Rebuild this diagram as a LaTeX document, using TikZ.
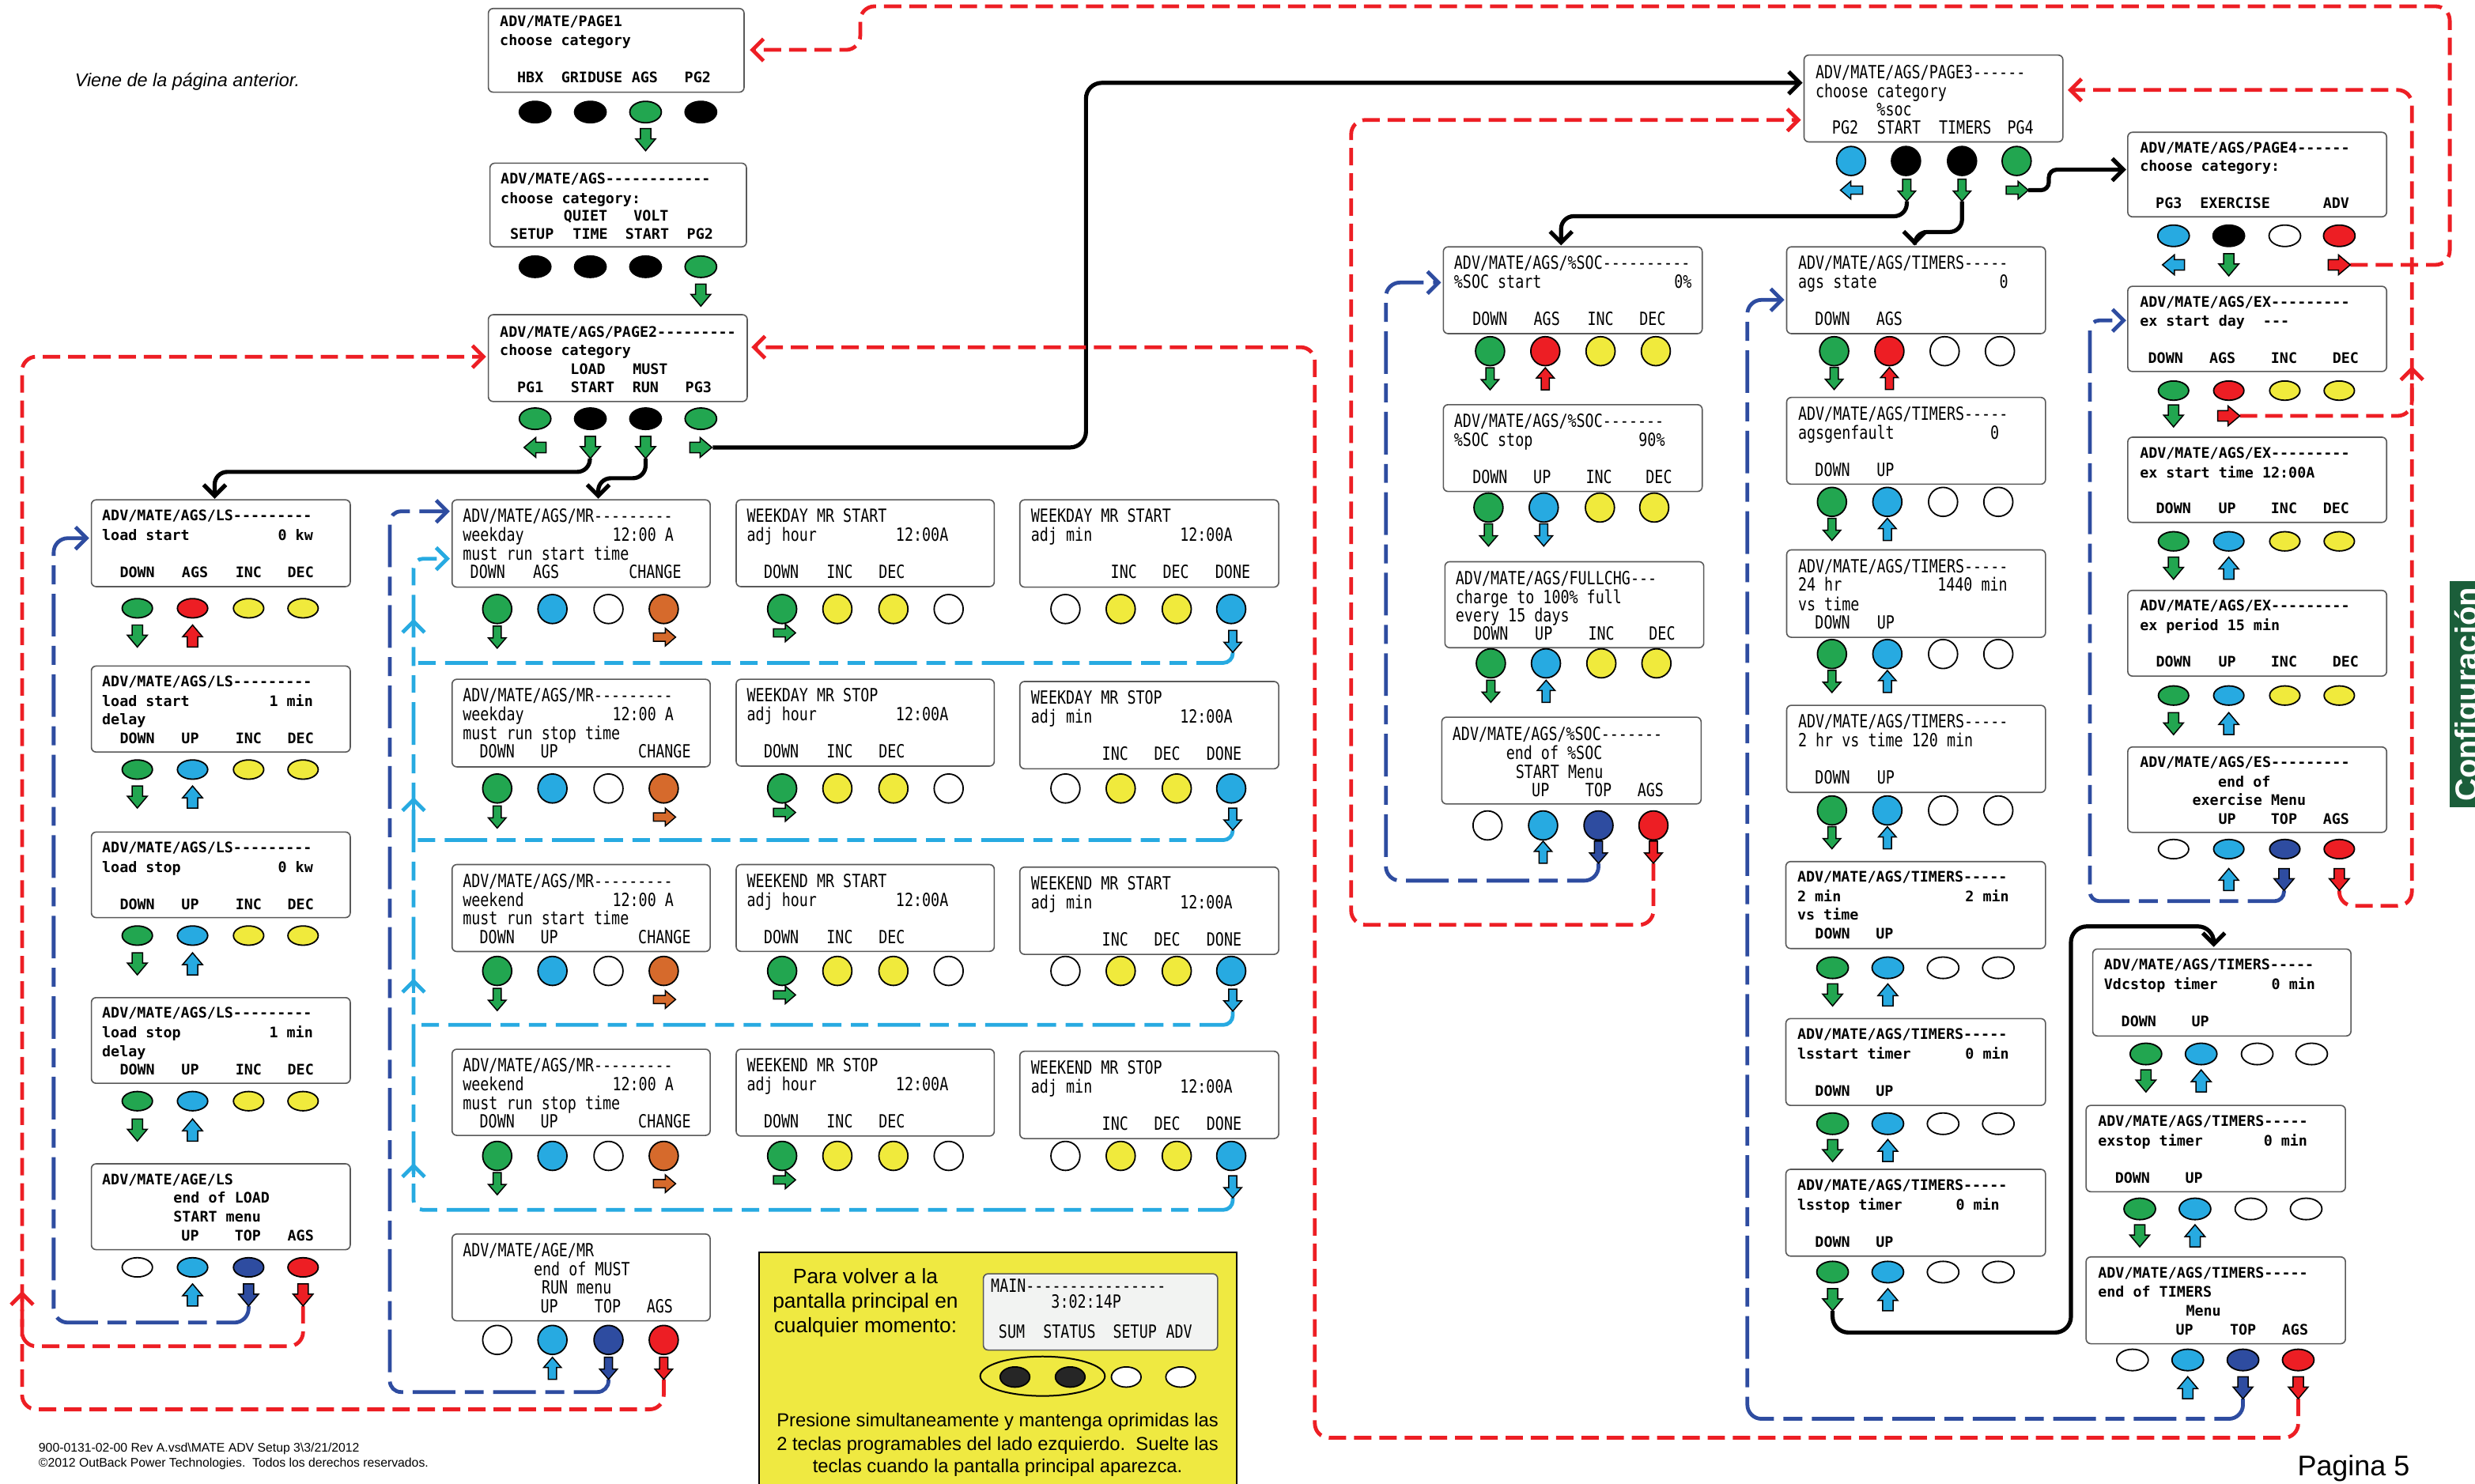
\documentclass[tikz,border=0pt]{standalone}
\usepackage{fontspec}
\setmainfont{Liberation Sans}
\newfontfamily\monoW{DejaVu Sans Mono}
\newfontfamily\monoN[FakeStretch=0.8]{DejaVu Sans Mono}
\usetikzlibrary{arrows.meta}
\definecolor{cG}{RGB}{34,166,80}
\definecolor{cR}{RGB}{237,30,36}
\definecolor{cY}{RGB}{240,234,60}
\definecolor{cB}{RGB}{39,170,225}
\definecolor{cD}{RGB}{46,76,160}
\definecolor{cO}{RGB}{214,106,44}
\definecolor{cYel}{RGB}{239,233,65}
\definecolor{cTab}{RGB}{27,94,58}
\definecolor{cLCD}{RGB}{242,243,242}
\definecolor{cK}{RGB}{0,0,0}
\definecolor{cW}{RGB}{255,255,255}
\newcommand\fW{\monoW\bfseries\fontsize{9.2}{11}\selectfont}
\newcommand\fN{\monoN\fontsize{11.5}{12}\selectfont}
\tikzset{
  lcdframe/.style={draw=black!65, line width=0.8pt, rounded corners=3pt, fill=white, inner sep=0pt},
  wt/.style={anchor=base west, inner sep=0pt, font=\fW},
  wr/.style={anchor=base east, inner sep=0pt, font=\fW},
  wk/.style={anchor=base, inner sep=0pt, font=\fW},
  nt/.style={anchor=base west, inner sep=0pt, font=\fN},
  nr/.style={anchor=base east, inner sep=0pt, font=\fN},
  nk/.style={anchor=base, inner sep=0pt, font=\fN},
  btnline/.style={draw=black, line width=0.9pt},
  arrline/.style={draw=black, line width=0.75pt, line join=miter},
  conn/.style={line width=2.4pt, rounded corners=9pt},
  reddash/.style={conn, draw=cR, dash pattern=on 11pt off 5pt},
  bluedash/.style={conn, draw=cD, dash pattern=on 27pt off 6pt on 12pt off 6pt},
  cyandash/.style={conn, draw=cB, dash pattern=on 27pt off 6pt on 11pt off 6pt on 12pt off 6pt},
  blackline/.style={conn, draw=black, line width=2.6pt, rounded corners=8pt},
  barb/.style={-{Straight Barb[length=7pt,width=14pt]}},
}
\newcommand\lcd[5]{\node[lcdframe, anchor=north west, minimum width=#4pt, minimum height=#5pt] (#1) at (#2,#3) {};}
\newcommand\TW[3]{\node[wt] at (#1,#2) {#3};}
\newcommand\RW[3]{\node[wr] at (#1,#2) {#3};}
\newcommand\KW[3]{\node[wk] at (#1,#2) {#3};}
\newcommand\TN[3]{\node[nt] at (#1,#2) {#3};}
\newcommand\RN[3]{\node[nr] at (#1,#2) {#3};}
\newcommand\KN[3]{\node[nk] at (#1,#2) {#3};}
\newcommand\bE[3]{\draw[btnline, fill=#3] (#1,#2) ellipse [x radius=9.6, y radius=6.1];}
\newcommand\bEb[3]{\draw[btnline, fill=#3] (#1,#2) ellipse [x radius=10, y radius=6.8];}
\newcommand\bC[3]{\draw[btnline, fill=#3] (#1,#2) circle [radius=9.2];}
\newcommand\rowE[2]{\foreach \bx/\bc in {#2} {\bE{\bx}{#1}{\bc}}}
\newcommand\rowEb[2]{\foreach \bx/\bc in {#2} {\bEb{\bx}{#1}{\bc}}}
\newcommand\rowC[2]{\foreach \bx/\bc in {#2} {\bC{\bx}{#1}{\bc}}}
\newcommand\wA[4]{\draw[arrline, fill=#4, shift={(#1,#2)}, rotate=#3] (-3.3,-7) -- (3.3,-7) -- (3.3,-0.5) -- (6.3,-0.5) -- (0,7) -- (-6.3,-0.5) -- (-3.3,-0.5) -- cycle;}
\newcommand\nA[4]{\draw[arrline, fill=#4, shift={(#1,#2)}, rotate=#3] (-2.6,-7) -- (2.6,-7) -- (2.6,0.5) -- (5.6,0.5) -- (0,7) -- (-5.6,0.5) -- (-2.6,0.5) -- cycle;}
\begin{document}
\begin{tikzpicture}[x=1pt,y=-1pt]
\useasboundingbox (0,0) rectangle (1568,940);
\fill[white] (0,0) rectangle (1568,940);

% ---------- connector end points ----------
\coordinate (p2s) at (373.7,290.5); \coordinate (ls1n) at (136,316);
\coordinate (p2r) at (409,290.5);   \coordinate (mr1n) at (379,316);
\coordinate (p2g) at (451.5,283.5); \coordinate (p3w) at (1142,52.5);
\coordinate (p3s) at (1208,127.5);  \coordinate (soc1n) at (989,155.5);
\coordinate (p3t) at (1243,127.5);  \coordinate (t1n) at (1213,155.5);
\coordinate (p3g) at (1285,120.5);  \coordinate (p4w) at (1347,107.5);
\coordinate (t7d) at (1161,830.5);  \coordinate (t8n) at (1402.5,600);
\coordinate (p4a) at (1489,167.8);  \coordinate (p1e) at (475,31.6);
\coordinate (ex4a) at (1482,564.3); \coordinate (p3e) at (1310,57);
\coordinate (ex1a) at (1419,263.5); \coordinate (exj) at (1528,232);
\coordinate (soc4a) at (1047.5,547);\coordinate (p3w2) at (1141,76);
\coordinate (t10a) at (1456,886.3); \coordinate (p2e) at (476,220);
\coordinate (ls5a) at (192,827.5);  \coordinate (p2w) at (308,226);
\coordinate (mr5a) at (420.5,874);  \coordinate (redj) at (14,818);
\coordinate (ls5t) at (157.5,827.5);\coordinate (ls1w) at (56.5,341);
\coordinate (mr5t) at (385.5,874);  \coordinate (mr1w) at (285,324);
\coordinate (soc4t) at (1012.7,547);\coordinate (soc1w) at (913,179);
\coordinate (t10t) at (1421,886.3); \coordinate (t1w) at (1130.5,190);
\coordinate (ex4t) at (1447,564.3); \coordinate (ex1w) at (1347,203);
\coordinate (c3a) at (781,413.4); \coordinate (c3b) at (781,526);
\coordinate (c3c) at (781,640.7); \coordinate (c3d) at (781,759);
\coordinate (mr1c) at (285,354);

% ---------- black connectors ----------
\draw[blackline, barb] (p2s) -- (373.7,299) -- (136,299) -- (ls1n);
\draw[blackline, barb] (p2r) -- (409,303) -- (379,303) -- (mr1n);
\draw[blackline, barb, rounded corners=10pt] (p2g) -- (688,283.5) -- (688,52.5) -- (p3w);
\draw[blackline, barb] (p3s) -- (1208,137) -- (989,137) -- (soc1n);
\draw[blackline, barb] (p3t) -- (1243,147) -- (1213,147) -- (t1n);
\draw[blackline, barb, rounded corners=5pt] (p3g) -- (1298,120.5) -- (1298,107.5) -- (p4w);
\draw[blackline, barb, rounded corners=10pt] (t7d) -- (1161,844.3) -- (1312,844.3) -- (1312,587) -- (1402.5,587) -- (t8n);

% ---------- red connectors ----------
\draw[reddash, barb] (p4a) -- (1552,167.8) -- (1552,4) -- (545,4) -- (545,31.6) -- (p1e);
\draw[reddash, barb] (ex4a) -- (1482,574) -- (1528,574) -- (1528,57) -- (p3e);
\draw[reddash, barb] (ex1a) -- (1528,263.5) -- (exj);
\draw[reddash, barb] (soc4a) -- (1047.5,586) -- (856,586) -- (856,76) -- (p3w2);
\draw[reddash, barb] (t10a) -- (1456,911) -- (833,911) -- (833,220) -- (p2e);
\draw[reddash, barb] (ls5a) -- (192,853) -- (14,853) -- (14,226) -- (p2w);
\draw[reddash, barb] (mr5a) -- (420.5,893) -- (14,893) -- (redj);

% ---------- blue connectors ----------
\draw[bluedash, barb] (ls5t) -- (157.5,838) -- (34,838) -- (34,341) -- (ls1w);
\draw[bluedash, barb, rounded corners=7pt] (mr5t) -- (385.5,882) -- (247,882) -- (247,324) -- (mr1w);
\draw[bluedash, barb] (soc4t) -- (1012.7,558) -- (878,558) -- (878,179) -- (soc1w);
\draw[bluedash, barb] (t10t) -- (1421,899) -- (1107,899) -- (1107,190) -- (t1w);
\draw[bluedash, barb, rounded corners=6pt] (ex4t) -- (1447,571) -- (1324,571) -- (1324,203) -- (ex1w);

% ---------- cyan connectors ----------
\draw[cyandash, rounded corners=6pt] (c3a) -- (781,420) -- (262,420);
\draw[cyandash, rounded corners=6pt] (c3b) -- (781,532.3) -- (262,532.3);
\draw[cyandash, rounded corners=6pt] (c3c) -- (781,649.4) -- (262,649.4);
\draw[cyandash, barb, rounded corners=6pt] (c3d) -- (781,766.6) -- (262,766.6) -- (262,354) -- (mr1c);
\foreach \yy in {392,505,620,737} {\draw[draw=cB, line width=2.4pt, barb] (262,\yy+9) -- (262,\yy);}

% ---------- top column ----------
\lcd{pA}{309}{5}{162}{53}
\TW{316.5}{16.8}{ADV/MATE/PAGE1}
\TW{316.5}{29}{choose category}
\KW{336}{52.3}{HBX}\KW{375}{52.3}{GRIDUSE}\KW{408.5}{52.3}{AGS}\KW{442}{52.3}{PG2}
\rowEb{71}{339/cK,374/cK,409/cG,444/cK}
\wA{409}{88.5}{0}{cG}

\lcd{pAGS}{310}{103}{162.5}{53}
\TW{317}{116.5}{ADV/MATE/AGS------------}
\TW{317}{129}{choose category:}
\KW{371}{140}{QUIET}\KW{412.5}{140}{VOLT}
\KW{337}{151.4}{SETUP}\KW{374}{151.4}{TIME}\KW{410}{151.4}{START}\KW{443.5}{151.4}{PG2}
\rowEb{169}{339/cK,374/cK,409/cK,444/cG}
\wA{444}{187}{0}{cG}

\lcd{pB}{309}{199}{164}{55}
\TW{316.5}{213.5}{ADV/MATE/AGS/PAGE2---------}
\TW{316.5}{225.3}{choose category}
\KW{372.5}{237.2}{LOAD}\KW{412}{237.2}{MUST}
\KW{336}{248.7}{PG1}\KW{375.5}{248.7}{START}\KW{409}{248.7}{RUN}\KW{442.5}{248.7}{PG3}
\rowEb{265.3}{339/cG,374/cK,409/cK,444/cG}
\wA{339}{283.5}{-90}{cG}\wA{374}{283.5}{0}{cG}\wA{409}{283.5}{0}{cG}\wA{444}{283.5}{90}{cG}

% ---------- LS column ----------
\lcd{ls1}{57.5}{316.3}{164}{55}
\TW{64.5}{329.8}{ADV/MATE/AGS/LS---------}
\TW{64.5}{342.3}{load start}\RW{198.5}{342.3}{0 kw}
\KW{87}{365.8}{DOWN}\KW{123.5}{365.8}{AGS}\KW{157.5}{365.8}{INC}\KW{190.5}{365.8}{DEC}
\rowE{385.4}{87/cG,122/cR,157.5/cY,192/cY}
\wA{87}{403}{0}{cG}\wA{122}{403}{180}{cR}

\lcd{ls2}{57.5}{421.6}{164}{54.5}
\TW{64.5}{435.1}{ADV/MATE/AGS/LS---------}
\TW{64.5}{447.6}{load start}\RW{198.5}{447.6}{1 min}
\TW{64.5}{459.3}{delay}
\KW{87}{471.1}{DOWN}\KW{120.5}{471.1}{UP}\KW{157.5}{471.1}{INC}\KW{190.5}{471.1}{DEC}
\rowE{487.6}{87/cG,122/cB,157.5/cY,192/cY}
\wA{87}{505}{0}{cG}\wA{122}{505}{180}{cB}

\lcd{ls3}{57.5}{526.8}{164}{54.2}
\TW{64.5}{540.3}{ADV/MATE/AGS/LS---------}
\TW{64.5}{552.8}{load stop}\RW{198.5}{552.8}{0 kw}
\KW{87}{576.3}{DOWN}\KW{120.5}{576.3}{UP}\KW{157.5}{576.3}{INC}\KW{190.5}{576.3}{DEC}
\rowE{592.8}{87/cG,122/cB,157.5/cY,192/cY}
\wA{87}{610.7}{0}{cG}\wA{122}{610.7}{180}{cB}

\lcd{ls4}{57.5}{631.7}{164}{54.3}
\TW{64.5}{645.2}{ADV/MATE/AGS/LS---------}
\TW{64.5}{657.7}{load stop}\RW{198.5}{657.7}{1 min}
\TW{64.5}{669.4}{delay}
\KW{87}{681.2}{DOWN}\KW{120.5}{681.2}{UP}\KW{157.5}{681.2}{INC}\KW{190.5}{681.2}{DEC}
\rowE{697.7}{87/cG,122/cB,157.5/cY,192/cY}
\wA{87}{716}{0}{cG}\wA{122}{716}{180}{cB}

\lcd{ls5}{57.5}{737}{164}{54.4}
\TW{64.5}{750.5}{ADV/MATE/AGE/LS}
\TW{109.7}{762.4}{end of LOAD}
\TW{109.7}{774}{START menu}
\KW{120.5}{786}{UP}\KW{157}{786}{TOP}\KW{190.5}{786}{AGS}
\rowE{803}{87/cW,122/cB,157.5/cD,192/cR}
\wA{122}{820.5}{180}{cB}\wA{157.5}{820.5}{0}{cD}\wA{192}{820.5}{0}{cR}

% ---------- MR column 1 ----------
\lcd{mr1}{286}{316.3}{163.5}{55.3}
\TN{293}{331}{ADV/MATE/AGS/MR---------}
\TN{293}{343}{weekday}\RN{427}{343}{12:00 A}
\TN{293}{354.8}{must run start time}
\KN{309}{366.6}{DOWN}\KN{346}{366.6}{AGS}\KN{415}{366.6}{CHANGE}
\rowC{385.9}{315/cG,350/cB,385.5/cW,420.5/cO}
\nA{315}{403.7}{0}{cG}\nA{421}{403.7}{90}{cO}

\lcd{mr2}{286}{430}{163.5}{55.5}
\TN{293}{444.7}{ADV/MATE/AGS/MR---------}
\TN{293}{456.7}{weekday}\RN{427}{456.7}{12:00 A}
\TN{293}{468.5}{must run stop time}
\KN{315}{480.3}{DOWN}\KN{348}{480.3}{UP}\KN{421}{480.3}{CHANGE}
\rowC{499.6}{315/cG,350/cB,385.5/cW,420.5/cO}
\nA{315}{517.7}{0}{cG}\nA{421}{517.7}{90}{cO}

\lcd{mr3}{286}{547.4}{163.5}{55.1}
\TN{293}{562.1}{ADV/MATE/AGS/MR---------}
\TN{293}{574.1}{weekend}\RN{427}{574.1}{12:00 A}
\TN{293}{585.9}{must run start time}
\KN{315}{597.7}{DOWN}\KN{348}{597.7}{UP}\KN{421}{597.7}{CHANGE}
\rowC{615.2}{315/cG,350/cB,385.5/cW,420.5/cO}
\nA{315}{633.3}{0}{cG}\nA{421}{633.3}{90}{cO}

\lcd{mr4}{286}{664.4}{163.5}{54.6}
\TN{293}{679.1}{ADV/MATE/AGS/MR---------}
\TN{293}{691.1}{weekend}\RN{427}{691.1}{12:00 A}
\TN{293}{702.9}{must run stop time}
\KN{315}{714.7}{DOWN}\KN{348}{714.7}{UP}\KN{421}{714.7}{CHANGE}
\rowC{732.4}{315/cG,350/cB,385.5/cW,420.5/cO}
\nA{315}{750}{0}{cG}\nA{421}{750}{90}{cO}

\lcd{mr5}{286}{781.5}{163.5}{55}
\TN{293}{796.5}{ADV/MATE/AGE/MR}
\TN{338}{808.5}{end of MUST}
\TN{343}{820}{RUN menu}
\KN{348}{832}{UP}\KN{385}{832}{TOP}\KN{418}{832}{AGS}
\rowC{849}{315/cW,350/cB,385.5/cD,420.5/cR}
\nA{350}{867}{180}{cB}\nA{385.5}{867}{0}{cD}\nA{420.5}{867}{0}{cR}

% ---------- MR column 2 ----------
\foreach \ty/\ta/\tb/\by/\ay in {316.3/WEEKDAY/START/385.9/401, 430/WEEKDAY/STOP/499.6/514.8, 547.4/WEEKEND/START/615.2/630.4, 664.4/WEEKEND/STOP/732.4/747.6}{
  \node[lcdframe, anchor=north west, minimum width=163.5pt, minimum height=55pt] at (466,\ty) {};
  \TN{473}{\ty+14.7}{\ta\ MR \tb}
  \TN{473}{\ty+26.7}{adj hour}\RN{601}{\ty+26.7}{12:00A}
  \KN{495}{\ty+50.3}{DOWN}\KN{532}{\ty+50.3}{INC}\KN{565}{\ty+50.3}{DEC}
  \rowC{\by}{495.5/cG,530.5/cY,566/cY,601/cW}
  \nA{497}{\ay}{90}{cG}
}

% ---------- MR column 3 ----------
\foreach \ty/\ta/\tb/\by/\ay/\kx in {316.3/WEEKDAY/START/385.9/406.4/0, 431.4/WEEKDAY/STOP/499.6/519/-5.5, 549/WEEKEND/START/615.2/633.7/-5.5, 665.7/WEEKEND/STOP/732.4/752/-5.5}{
  \node[lcdframe, anchor=north west, minimum width=164pt, minimum height=55.3pt] at (645.7,\ty) {};
  \TN{653}{\ty+14.7}{\ta\ MR \tb}
  \TN{653}{\ty+26.7}{adj min}\RN{781}{\ty+26.7}{12:00A}
  \KN{712+\kx}{\ty+50.3}{INC}\KN{745+\kx}{\ty+50.3}{DEC}\KN{781+\kx}{\ty+50.3}{DONE}
  \rowC{\by}{675/cW,710/cY,745.5/cY,780/cB}
  \nA{781}{\ay}{0}{cB}
}

% ---------- PAGE3 ----------
\lcd{pC}{1142.5}{34.5}{164}{55}
\TN{1150}{50}{ADV/MATE/AGS/PAGE3------}
\TN{1150}{62}{choose category}
\TN{1188.8}{73.5}{\%soc}
\KN{1169}{85}{PG2}\KN{1203}{85}{START}\KN{1245}{85}{TIMERS}\KN{1280}{85}{PG4}
\rowC{102}{1172.7/cB,1207.5/cK,1243/cK,1277.6/cG}
\nA{1173}{120.5}{-90}{cB}\nA{1208}{120.5}{0}{cG}\nA{1243}{120.5}{0}{cG}\nA{1278}{120.5}{90}{cG}

% ---------- PAGE4 / EX ----------
\lcd{pD}{1347.6}{83.4}{164}{53.6}
\TW{1355.5}{96.8}{ADV/MATE/AGS/PAGE4------}
\TW{1355.5}{108.4}{choose category:}
\KW{1374}{132}{PG3}\KW{1416}{132}{EXERCISE}\KW{1480}{132}{ADV}
\rowEb{149.4}{1377/cB,1412/cK,1447.5/cW,1482/cR}
\wA{1377}{167.8}{-90}{cB}\wA{1412}{167.8}{0}{cG}\wA{1482}{167.8}{90}{cR}

\lcd{ex1}{1347.6}{181}{164}{54}
\TW{1355.5}{194.6}{ADV/MATE/AGS/EX---------}
\TW{1355.5}{206.5}{ex start day}\TW{1433.5}{206.5}{---}
\KW{1372}{230}{DOWN}\KW{1408}{230}{AGS}\KW{1447}{230}{INC}\KW{1486}{230}{DEC}
\rowE{247.5}{1377/cG,1412/cR,1447.5/cY,1482/cY}
\wA{1377}{263.5}{0}{cG}\wA{1412}{263.5}{90}{cR}

\lcd{ex2}{1347.6}{276.6}{164}{54}
\TW{1355.5}{290.1}{ADV/MATE/AGS/EX---------}
\TW{1355.5}{302.6}{ex start time 12:00A}
\KW{1377}{325.6}{DOWN}\KW{1411}{325.6}{UP}\KW{1447}{325.6}{INC}\KW{1480}{325.6}{DEC}
\rowE{343}{1377/cG,1412/cB,1447.5/cY,1482/cY}
\wA{1377}{360}{0}{cG}\wA{1412}{360}{180}{cB}

\lcd{ex3}{1347.6}{373.7}{164}{54.3}
\TW{1355.5}{387.2}{ADV/MATE/AGS/EX---------}
\TW{1355.5}{399.7}{ex period 15 min}
\KW{1377}{422.8}{DOWN}\KW{1411}{422.8}{UP}\KW{1447}{422.8}{INC}\KW{1486}{422.8}{DEC}
\rowE{440.7}{1377/cG,1412/cB,1447.5/cY,1482/cY}
\wA{1377}{458.5}{0}{cG}\wA{1412}{458.5}{180}{cB}

\lcd{ex4}{1347.6}{472.9}{164}{54.1}
\TW{1355.5}{486.4}{ADV/MATE/AGS/ES---------}
\TW{1405}{498.6}{end of}
\TW{1388.7}{510.3}{exercise Menu}
\KW{1411}{522}{UP}\KW{1447}{522}{TOP}\KW{1480}{522}{AGS}
\rowE{538}{1377/cW,1412/cB,1447.5/cD,1482/cR}
\wA{1412}{557.3}{180}{cB}\wA{1447}{557.3}{0}{cD}\wA{1482}{557.3}{0}{cR}

% ---------- SOC column ----------
\lcd{soc1}{914}{156}{164}{55}
\TN{921}{170.7}{ADV/MATE/AGS/\%SOC----------}
\TN{921}{182.7}{\%SOC start}\RN{1072}{182.7}{0\%}
\KN{944}{206.3}{DOWN}\KN{980}{206.3}{AGS}\KN{1014}{206.3}{INC}\KN{1047}{206.3}{DEC}
\rowC{222.5}{944/cG,979/cR,1014/cY,1049/cY}
\nA{944}{240}{0}{cG}\nA{979}{240}{180}{cR}

\lcd{soc2}{914}{256}{164}{55}
\TN{921}{270.7}{ADV/MATE/AGS/\%SOC-------}
\TN{921}{282.7}{\%SOC stop}\RN{1055}{282.7}{90\%}
\KN{944}{306.3}{DOWN}\KN{977}{306.3}{UP}\KN{1013}{306.3}{INC}\KN{1051}{306.3}{DEC}
\rowC{321.6}{943/cG,978/cB,1013.6/cY,1048/cY}
\nA{943}{339}{0}{cG}\nA{978}{339}{0}{cB}

\lcd{soc3}{915}{355.5}{164}{54.5}
\TN{922}{370.5}{ADV/MATE/AGS/FULLCHG---}
\TN{922}{382.3}{charge to 100\% full}
\TN{922}{394}{every 15 days}
\KN{944.5}{405.7}{DOWN}\KN{978}{405.7}{UP}\KN{1014.5}{405.7}{INC}\KN{1053}{405.7}{DEC}
\rowC{420.3}{944.5/cG,979.4/cB,1014.5/cY,1049.4/cY}
\nA{944.5}{438}{0}{cG}\nA{979.5}{438}{180}{cB}

\lcd{soc4}{913}{454}{164.3}{55}
\TN{920}{469.3}{ADV/MATE/AGS/\%SOC-------}
\TN{954}{481.3}{end of \%SOC}
\TN{960}{493}{START Menu}
\KN{976}{504.8}{UP}\KN{1012.7}{504.8}{TOP}\KN{1045.7}{504.8}{AGS}
\rowC{523}{942.4/cW,977.6/cB,1012.7/cD,1047.5/cR}
\nA{977.6}{540}{180}{cB}\nA{1012.7}{540}{0}{cD}\nA{1047.5}{540}{0}{cR}

% ---------- TIMERS column ----------
\lcd{t1}{1131.5}{156}{164}{55}
\TN{1139}{170.7}{ADV/MATE/AGS/TIMERS-----}
\TN{1139}{182.7}{ags state}\RN{1272.5}{182.7}{0}
\KN{1161}{206.3}{DOWN}\KN{1197}{206.3}{AGS}
\rowC{222.5}{1162/cG,1197/cR,1232/cW,1267/cW}
\nA{1162}{239.8}{0}{cG}\nA{1197}{239.8}{180}{cR}

\lcd{t2}{1131.5}{251.4}{164}{55}
\TN{1139}{266.1}{ADV/MATE/AGS/TIMERS-----}
\TN{1139}{278.1}{agsgenfault}\RN{1266.7}{278.1}{0}
\KN{1161}{301.7}{DOWN}\KN{1194.5}{301.7}{UP}
\rowC{318}{1160.6/cG,1195.7/cB,1231/cW,1266/cW}
\nA{1160.6}{335.4}{0}{cG}\nA{1195.7}{335.4}{180}{cB}

\lcd{t3}{1131.5}{348}{164}{55.4}
\TN{1139}{362.7}{ADV/MATE/AGS/TIMERS-----}
\TN{1139}{374.7}{24 hr}\RN{1272}{374.7}{1440 min}
\TN{1139}{386.8}{vs time}
\KN{1161}{398.5}{DOWN}\KN{1194.7}{398.5}{UP}
\rowC{414.4}{1160.6/cG,1195.7/cB,1231/cW,1266/cW}
\nA{1160.6}{431.8}{0}{cG}\nA{1195.7}{431.8}{180}{cB}

\lcd{t4}{1131.5}{446.5}{164}{55.2}
\TN{1139}{461.2}{ADV/MATE/AGS/TIMERS-----}
\TN{1139}{473.2}{2 hr vs time 120 min}
\KN{1161}{496.8}{DOWN}\KN{1194.7}{496.8}{UP}
\rowC{513.5}{1160.6/cG,1195.7/cB,1231/cW,1266/cW}
\nA{1160.6}{530.8}{0}{cG}\nA{1195.7}{530.8}{180}{cB}

\lcd{t5}{1131}{545.5}{164.5}{55.1}
\TW{1138.5}{559}{ADV/MATE/AGS/TIMERS-----}
\TW{1138.5}{571.5}{2 min}\RW{1273}{571.5}{2 min}
\TW{1138.5}{583}{vs time}
\KW{1161}{595}{DOWN}\KW{1194}{595}{UP}
\rowEb{613.2}{1161/cG,1196/cB,1231/cW,1266/cW}
\wA{1161}{630.4}{0}{cG}\wA{1196}{630.4}{180}{cB}

\lcd{t6}{1131}{645}{164.5}{55}
\TW{1138.5}{658.5}{ADV/MATE/AGS/TIMERS-----}
\TW{1138.5}{671}{lsstart timer}\RW{1273}{671}{0 min}
\KW{1161}{694.5}{DOWN}\KW{1194}{694.5}{UP}
\rowEb{712}{1161/cG,1196/cB,1231/cW,1266/cW}
\wA{1161}{729}{0}{cG}\wA{1196}{729}{180}{cB}

\lcd{t7}{1131}{740.5}{164.5}{55}
\TW{1138.5}{754}{ADV/MATE/AGS/TIMERS-----}
\TW{1138.5}{766.5}{lsstop timer}\RW{1267}{766.5}{0 min}
\KW{1161}{790}{DOWN}\KW{1194}{790}{UP}
\rowEb{806}{1161/cG,1196/cB,1231/cW,1266/cW}
\wA{1161}{823.5}{0}{cG}\wA{1196}{823.5}{180}{cB}

\lcd{t8}{1325.4}{600.9}{163.6}{55.1}
\TW{1332.8}{614.4}{ADV/MATE/AGS/TIMERS-----}
\TW{1332.8}{626.9}{Vdcstop timer}\RW{1467}{626.9}{0 min}
\KW{1355}{650.4}{DOWN}\KW{1394}{650.4}{UP}
\rowEb{667.8}{1359.5/cG,1394.5/cB,1430/cW,1464.5/cW}
\wA{1359.5}{684.9}{0}{cG}\wA{1394.5}{684.9}{180}{cB}

\lcd{t9}{1321.2}{700}{164.3}{54.7}
\TW{1329}{713.5}{ADV/MATE/AGS/TIMERS-----}
\TW{1329}{726}{exstop timer}\RW{1462}{726}{0 min}
\KW{1351}{749.5}{DOWN}\KW{1390}{749.5}{UP}
\rowEb{766}{1355.6/cG,1390.6/cB,1426/cW,1461/cW}
\wA{1355.6}{783}{0}{cG}\wA{1390.6}{783}{180}{cB}

\lcd{t10}{1321.2}{796}{164.3}{55}
\TW{1329}{810}{ADV/MATE/AGS/TIMERS-----}
\TW{1329}{822}{end of TIMERS}
\TW{1384.7}{834}{Menu}
\KW{1384}{845.8}{UP}\KW{1421}{845.8}{TOP}\KW{1454}{845.8}{AGS}
\rowEb{861.7}{1351/cW,1386/cB,1421/cD,1456/cR}
\wA{1386}{879.3}{180}{cB}\wA{1421}{879.3}{0}{cD}\wA{1456}{879.3}{0}{cR}

% ---------- yellow panel ----------
\draw[fill=cYel, draw=black, line width=1pt] (481,793.5) rectangle (783.5,945);
\node (yp1) [anchor=base, font=\fontsize{13.2}{15}\selectfont] at (548.3,813.5) {Para volver a la};
\node (yp2) [anchor=base, font=\fontsize{13.2}{15}\selectfont] at (548.3,829) {pantalla principal en};
\node (yp3) [anchor=base, font=\fontsize{13.2}{15}\selectfont] at (548.3,844.5) {cualquier momento:};
\node (mainlcd) [lcdframe, fill=cLCD, anchor=north west, minimum width=148.4pt, minimum height=48.3pt] at (622.6,806.7) {};
\TN{627.6}{819}{MAIN----------------}
\TN{665.8}{829}{3:02:14P}
\KN{641}{848}{SUM}\KN{677.5}{848}{STATUS}\KN{719}{848}{SETUP}\KN{747}{848}{ADV}
\draw[btnline, fill=black!85] (643,872.5) ellipse [x radius=9.4, y radius=6.4];
\draw[btnline, fill=black!85] (678,872.5) ellipse [x radius=9.4, y radius=6.4];
\draw[btnline, fill=white] (713.5,872.5) ellipse [x radius=9.4, y radius=6.4];
\draw[btnline, fill=white] (748,872.5) ellipse [x radius=9.4, y radius=6.4];
\draw[line width=1pt] (660.5,872) ellipse [x radius=39.5, y radius=12.5];
\node (yb1) [anchor=base, font=\fontsize{11.9}{13}\selectfont] at (632,904) {Presione simultaneamente y mantenga oprimidas las};
\node (yb2) [anchor=base, font=\fontsize{11.9}{13}\selectfont] at (632,918.8) {2 teclas programables del lado ezquierdo.~~Suelte las};
\node (yb3) [anchor=base, font=\fontsize{11.9}{13}\selectfont] at (632,933) {teclas cuando la pantalla principal aparezca.};

% ---------- free texts ----------
\node (viene) [anchor=base west, font=\itshape\fontsize{11.7}{13}\selectfont] at (44,55) {Viene de la página anterior.};
\node (ft1) [anchor=base west, font=\fontsize{7.9}{9}\selectfont] at (21,920) {900-0131-02-00 Rev A.vsd\textbackslash MATE ADV Setup 3\textbackslash 3/21/2012};
\node (ft2) [anchor=base west, font=\fontsize{7.9}{9}\selectfont] at (21,929.5) {\textcopyright 2012 OutBack Power Technologies.~~Todos los derechos reservados.};
\node (pag) [anchor=base west, font=\fontsize{18}{20}\selectfont] at (1452,935) {Pagina 5};
\fill[cTab] (1551.7,368) rectangle (1572,511.4);
\node (tab) [rotate=90, anchor=base, text=white, font=\bfseries\fontsize{20}{22}\selectfont] at (1569.5,440) {Configuración};
\end{tikzpicture}
\end{document}
